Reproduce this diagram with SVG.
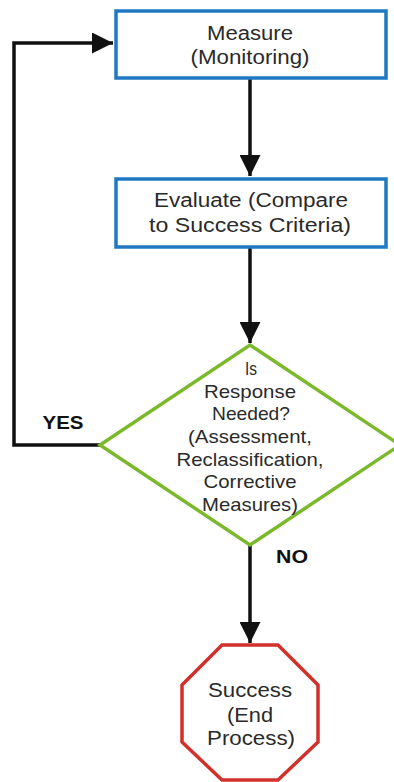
<svg xmlns="http://www.w3.org/2000/svg" width="394" height="782" viewBox="0 0 394 782">
<style>
.box{fill:#fff;stroke:#1f78c1;stroke-width:3.5}
.dia{fill:#fff;stroke:#7bb82c;stroke-width:3.5}
.oct{fill:#fff;stroke:#d1302b;stroke-width:3.5}
.t{font-family:"Liberation Sans",Arial,sans-serif;font-size:20px;fill:#2a2a2a;text-anchor:middle}
.d{font-size:19px}
.b{font-family:"Liberation Sans",Arial,sans-serif;font-size:18px;font-weight:bold;fill:#111;text-anchor:middle}
.c{fill:none;stroke:#111;stroke-width:3.5}
</style>
<defs>
<marker id="ah" viewBox="0 0 10 10" refX="10" refY="5" markerWidth="7" markerHeight="6" markerUnits="strokeWidth" orient="auto">
<path d="M0,0 L10,5 L0,10 Z" fill="#111"/>
</marker>
</defs>
<rect width="394" height="782" fill="#fff"/>
<g id="connectors">
<path class="c" d="M250,78 V176" marker-end="url(#ah)"/>
<path class="c" d="M250,247 V343" marker-end="url(#ah)"/>
<path class="c" d="M100,445 H14 V43 H113" marker-end="url(#ah)"/>
<path class="c" d="M250,545 V643" marker-end="url(#ah)"/>
<text class="b" x="63" y="429" textLength="41" lengthAdjust="spacingAndGlyphs">YES</text>
<text class="b" x="292" y="563" textLength="32" lengthAdjust="spacingAndGlyphs">NO</text>
</g>
<g id="measure">
<rect class="box" x="116" y="11" width="270" height="67"/>
<text class="t" x="250" y="40" textLength="86" lengthAdjust="spacingAndGlyphs">Measure</text>
<text class="t" x="250" y="64" textLength="119" lengthAdjust="spacingAndGlyphs">(Monitoring)</text>
</g>
<g id="evaluate">
<rect class="box" x="116" y="179" width="270" height="68"/>
<text class="t" x="251" y="207" textLength="194" lengthAdjust="spacingAndGlyphs">Evaluate (Compare</text>
<text class="t" x="250" y="232" textLength="202" lengthAdjust="spacingAndGlyphs">to Success Criteria)</text>
</g>
<g id="decision">
<polygon class="dia" points="250,345 400,445 250,545 100,445"/>
<text class="t d" x="251" y="375" textLength="12" lengthAdjust="spacingAndGlyphs">Is</text>
<text class="t d" x="250" y="398" textLength="92" lengthAdjust="spacingAndGlyphs">Response</text>
<text class="t d" x="251" y="420" textLength="78" lengthAdjust="spacingAndGlyphs">Needed?</text>
<text class="t d" x="250" y="443" textLength="124" lengthAdjust="spacingAndGlyphs">(Assessment,</text>
<text class="t d" x="250" y="466" textLength="147" lengthAdjust="spacingAndGlyphs">Reclassification,</text>
<text class="t d" x="250" y="488" textLength="93" lengthAdjust="spacingAndGlyphs">Corrective</text>
<text class="t d" x="250" y="511" textLength="96" lengthAdjust="spacingAndGlyphs">Measures)</text>
</g>
<g id="success">
<polygon class="oct" points="222,645 278,645 318,685 318,742 278,780 222,780 182,742 182,685"/>
<text class="t" x="250" y="697" textLength="84" lengthAdjust="spacingAndGlyphs">Success</text>
<text class="t" x="250" y="722" textLength="46" lengthAdjust="spacingAndGlyphs">(End</text>
<text class="t" x="251" y="745" textLength="88" lengthAdjust="spacingAndGlyphs">Process)</text>
</g>
</svg>
